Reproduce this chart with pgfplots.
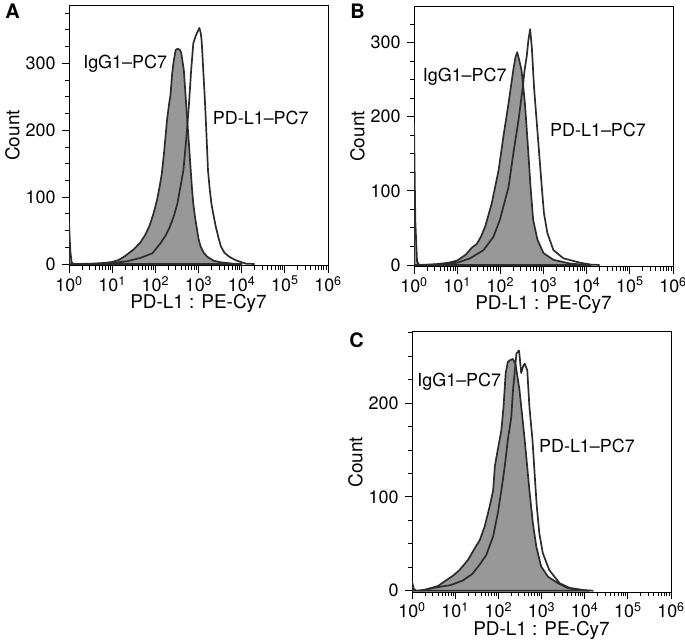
\documentclass[border=0pt]{standalone}
\usepackage{fontspec}
\setmainfont{TeX Gyre Heros}
\usepackage{pgfplots}
\pgfplotsset{compat=1.18}
\definecolor{fillgray}{HTML}{989898}
\definecolor{linegray}{HTML}{2C2C2C}

\tikzset{
  gfill/.style={fill=fillgray, draw=linegray, line width=1.7bp, line join=round},
  wline/.style={draw=linegray, line width=1.7bp, fill=none, line join=round},
  lab/.style={anchor=west, inner sep=0pt, font=\fontsize{18}{20}\selectfont},
}
\pgfplotsset{
  flowaxis/.style={
    scale only axis, width=259bp, height=260.5bp,
    xmin=0, xmax=6,
    xtick={0,1,2,3,4,5,6},
    xticklabels={10\textsuperscript{0},10\textsuperscript{1},10\textsuperscript{2},10\textsuperscript{3},10\textsuperscript{4},10\textsuperscript{5},10\textsuperscript{6}},
    minor xtick={0.301,0.477,0.602,0.699,0.778,0.845,0.903,0.954,
      1.301,1.477,1.602,1.699,1.778,1.845,1.903,1.954,
      2.301,2.477,2.602,2.699,2.778,2.845,2.903,2.954,
      3.301,3.477,3.602,3.699,3.778,3.845,3.903,3.954,
      4.301,4.477,4.602,4.699,4.778,4.845,4.903,4.954,
      5.301,5.477,5.602,5.699,5.778,5.845,5.903,5.954},
    tick align=outside, tick pos=left,
    major tick length=7bp, minor tick length=4bp,
    tick style={black, line width=0.9bp},
    axis line style={black, line width=1bp},
    ticklabel style={font=\fontsize{18}{20}\selectfont},
    yticklabel style={xshift=-3bp},
    every axis x label/.style={at={([yshift=-38bp]axis description cs:0.5,0)}, anchor=center, font=\fontsize{19}{21}\selectfont},
    every axis y label/.style={at={([xshift=-56.5bp]axis description cs:0,0.5)}, anchor=center, rotate=90, font=\fontsize{19}{21}\selectfont},
    xlabel={PD-L1 : PE-Cy7}, ylabel={Count},
  },
}

\begin{document}
\begin{tikzpicture}[x=1bp,y=1bp]
\useasboundingbox (0,0) rectangle (685,643);

% ---------------- Panel A ----------------
\begin{axis}[flowaxis, at={(69bp,377.3bp)}, anchor=south west,
  ymin=-2.5, ymax=387,
  ytick={0,100,200,300}, yticklabels={0,100,200,300},
  minor ytick={25,50,75,125,150,175,225,250,275,325,350,375}]
\addplot[gfill] table {
0 62
0.03 20
0.06 3
0.1 0
0.5 0.5
0.8 1.5
1.0 3
1.15 6
1.3 12
1.5 22
1.65 32
1.77 44
1.87 58
1.96 76
2.04 96
2.1 116
2.15 135
2.2 165
2.27 215
2.32 240
2.35 252
2.39 285
2.42 301
2.47 320
2.52 322
2.57 320
2.6 316
2.63 303
2.66 290
2.7 252
2.74 215
2.78 178
2.82 140
2.85 112
2.88 90
2.92 70
2.96 54
3.0 38
3.05 26
3.12 17
3.2 11
3.35 5
3.52 2.5
3.8 0.5
4.0 0
} \closedcycle;
\addplot[wline] table {
0.5 0
0.9 1
1.2 3
1.34 4
1.65 9
1.93 16
2.12 31
2.25 44
2.34 56
2.43 72
2.51 90
2.58 115
2.65 140
2.72 190
2.78 240
2.83 290
2.88 330
2.93 340
2.97 346
3.02 353
3.05 346
3.07 336
3.09 315
3.11 290
3.14 255
3.17 215
3.22 140
3.26 112
3.3 90
3.35 72
3.4 56
3.46 40
3.52 26
3.6 17
3.71 11
3.85 6
3.98 3
4.1 0.5
4.3 0
};
\node[lab] at (axis cs:0.326,300) {IgG1–PC7};
\node[lab] at (axis cs:3.33,218) {PD-L1–PC7};
\end{axis}

% ---------------- Panel B ----------------
\begin{axis}[flowaxis, at={(414bp,376.3bp)}, anchor=south west,
  ymin=-2.3, ymax=349,
  ytick={0,100,200,300}, yticklabels={0,100,200,300},
  minor ytick={25,50,75,125,150,175,225,250,275,325}]
\addplot[gfill] table {
0 190
0.03 60
0.07 5
0.12 0
0.5 1
0.8 3
1.0 6
1.2 14
1.35 24
1.45 28
1.55 38
1.65 52
1.8 83
1.96 128
2.07 173
2.19 218
2.3 263
2.35 280
2.39 287
2.43 278
2.49 263
2.57 218
2.65 150
2.7 105
2.76 61
2.86 34
3.0 16
3.23 7
3.61 2
3.9 0.5
4.1 0
} \closedcycle;
\addplot[wline] table {
0.3 0
0.6 1
1.0 3
1.3 9
1.61 20
1.84 38
1.99 61
2.19 105
2.30 150
2.42 195
2.52 240
2.56 262
2.61 281
2.65 303
2.69 318
2.73 293
2.78 240
2.84 195
2.90 150
2.96 105
3.01 70
3.09 43
3.23 20
3.46 9
3.85 3
4.1 0.5
4.3 0
};
\node[lab] at (axis cs:0.2,254) {IgG1–PC7};
\node[lab] at (axis cs:3.15,182) {PD-L1–PC7};
\end{axis}

% ---------------- Panel C ----------------
\begin{axis}[flowaxis, at={(412bp,50.7bp)}, anchor=south west,
  ymin=-1.7, ymax=276,
  ytick={0,100,200}, yticklabels={0,100,200},
  minor ytick={25,50,75,125,150,175,225,250,275}]
\addplot[gfill] table {
0 10
0.04 2
0.1 0
0.3 1
0.6 5
0.95 16
1.1 22
1.3 33
1.45 45
1.57 54
1.68 68
1.8 90
1.88 107
1.92 133
1.97 146
2.07 171
2.12 196
2.17 232
2.22 244
2.28 246
2.34 247
2.40 241
2.49 214
2.61 161
2.72 107
2.80 72
2.88 47
2.99 26
3.15 15
3.38 8
3.6 3
3.9 0.5
4.1 0
} \closedcycle;
\addplot[wline] table {
0.2 0
0.5 3
0.9 6
1.18 11
1.4 18
1.57 28
1.72 38
1.88 58
1.99 83
2.07 107
2.15 133
2.22 161
2.30 185
2.34 214
2.42 253
2.48 256
2.53 232
2.58 240
2.61 242
2.67 235
2.72 196
2.79 161
2.84 125
2.89 90
2.95 61
3.03 40
3.18 22
3.42 8
3.65 3
4.0 0.5
4.2 0
};
\node[lab] at (axis cs:0.12,223) {IgG1–PC7};
\node[lab] at (axis cs:2.94,154) {PD-L1–PC7};
\end{axis}

% panel letters
\node[font=\fontsize{20}{22}\selectfont\bfseries] at (12.5,632) {A};
\node[font=\fontsize{20}{22}\selectfont\bfseries] at (357.5,632) {B};
\node[font=\fontsize{20}{22}\selectfont\bfseries] at (356.5,303) {C};
\end{tikzpicture}
\end{document}
